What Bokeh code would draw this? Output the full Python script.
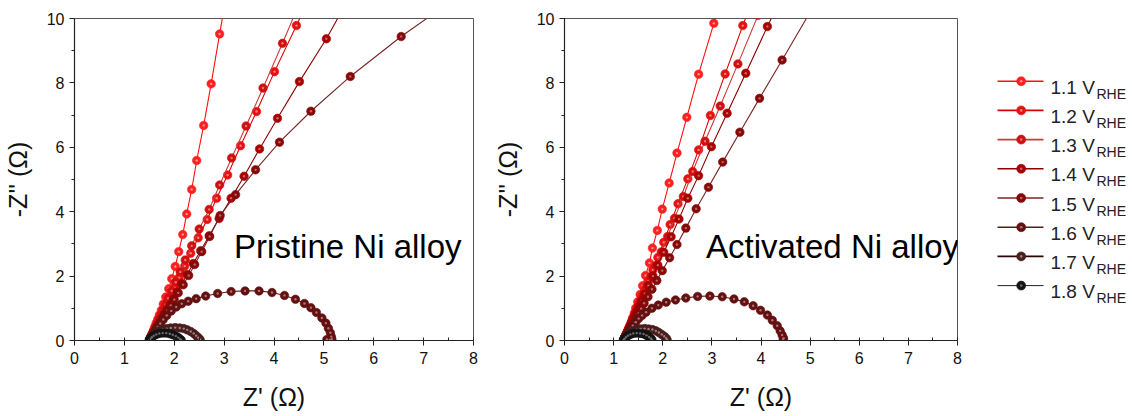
from bokeh.plotting import figure
from bokeh.layouts import row
from bokeh.models import Range1d, SingleIntervalTicker, Label
from bokeh.embed import file_html
from bokeh.resources import INLINE
from bokeh.core.properties import value

FONT = "Liberation Sans"

potentials = ["1.1", "1.2", "1.3", "1.4", "1.5", "1.6", "1.7", "1.8"]
line_colors = ["#ff1010", "#e00000", "#d03a3a", "#8b0000", "#7a2424", "#5c1a1a", "#2a0606", "#222222"]
marker_colors = ["#ff2020", "#e61212", "#cf1010", "#a80000", "#860808", "#651010", "#4a1e1e", "#141414"]
highlight_colors = ["#ffb0b0", "#f8a0a0", "#e89090", "#d08080", "#c08080", "#b89090", "#b09898", "#808080"]

# ---- Pristine Ni alloy: Nyquist data (Z', -Z'') ----
pr_11_x = [1.51, 1.52, 1.53, 1.54, 1.555, 1.57, 1.585, 1.60, 1.62, 1.64, 1.67, 1.70, 1.74, 1.78, 1.83, 1.89,
           1.95, 2.02, 2.09, 2.17, 2.25, 2.35, 2.45, 2.59, 2.74, 2.91, 3.12]
pr_11_y = [0.04, 0.07, 0.11, 0.15, 0.20, 0.25, 0.31, 0.38, 0.46, 0.55, 0.66, 0.79, 0.94, 1.13, 1.35, 1.61,
           1.92, 2.30, 2.76, 3.29, 3.93, 4.69, 5.59, 6.68, 7.97, 9.52, 11.4]

pr_12_x = [1.52, 1.53, 1.54, 1.55, 1.565, 1.58, 1.595, 1.61, 1.63, 1.65, 1.67, 1.70, 1.73, 1.77, 1.82, 1.87,
           1.94, 2.01, 2.10, 2.21, 2.33, 2.48, 2.66, 2.85, 3.07, 3.33, 3.65, 4.01, 4.45, 4.90]
pr_12_y = [0.05, 0.08, 0.11, 0.15, 0.19, 0.23, 0.28, 0.33, 0.39, 0.46, 0.54, 0.63, 0.74, 0.87, 1.03, 1.21,
           1.42, 1.67, 1.96, 2.31, 2.71, 3.19, 3.76, 4.42, 5.14, 6.05, 7.11, 8.35, 9.78, 11.3]

pr_13_x = [1.51, 1.52, 1.53, 1.54, 1.55, 1.56, 1.575, 1.59, 1.61, 1.625, 1.65, 1.67, 1.70, 1.74, 1.78, 1.83,
           1.88, 1.95, 2.03, 2.12, 2.22, 2.35, 2.50, 2.70, 2.91, 3.15, 3.44, 3.78, 4.17, 4.60]
pr_13_y = [0.04, 0.07, 0.10, 0.13, 0.17, 0.21, 0.25, 0.30, 0.36, 0.42, 0.50, 0.58, 0.68, 0.80, 0.95, 1.12,
           1.31, 1.54, 1.81, 2.13, 2.50, 2.94, 3.46, 4.07, 4.83, 5.67, 6.66, 7.84, 9.23, 10.8]

pr_14_x = [1.52, 1.53, 1.55, 1.56, 1.58, 1.60, 1.61, 1.64, 1.66, 1.69, 1.72, 1.76, 1.80, 1.85, 1.91, 1.98,
           2.06, 2.15, 2.26, 2.38, 2.53, 2.70, 2.90, 3.14, 3.40, 3.71, 4.07, 4.51, 5.05, 5.60]
pr_14_y = [0.06, 0.09, 0.13, 0.17, 0.21, 0.26, 0.31, 0.37, 0.44, 0.51, 0.60, 0.70, 0.81, 0.95, 1.11, 1.29,
           1.51, 1.76, 2.05, 2.39, 2.79, 3.25, 3.79, 4.42, 5.10, 5.95, 6.90, 8.04, 9.37, 10.9]

pr_15_x = [1.52, 1.53, 1.545, 1.56, 1.575, 1.59, 1.61, 1.635, 1.66, 1.69, 1.73, 1.77, 1.81, 1.86, 1.93, 2.00,
           2.08, 2.18, 2.29, 2.41, 2.55, 2.71, 2.92, 3.23, 3.63, 4.11, 4.74, 5.53, 6.55, 7.70]
pr_15_y = [0.05, 0.08, 0.11, 0.15, 0.19, 0.24, 0.29, 0.35, 0.42, 0.49, 0.58, 0.68, 0.80, 0.93, 1.09, 1.27,
           1.48, 1.73, 2.02, 2.36, 2.76, 3.23, 3.88, 4.53, 5.30, 6.16, 7.12, 8.20, 9.44, 10.7]

pr_16_x = [1.51, 1.53, 1.56, 1.59, 1.63, 1.67, 1.72, 1.78, 1.85, 1.94, 2.04, 2.15, 2.28, 2.44, 2.63, 2.87,
           3.14, 3.42, 3.70, 3.96, 4.21, 4.43, 4.61, 4.74, 4.85, 4.96, 5.04, 5.09, 5.13, 5.15, 5.16, 5.12, 5.06]
pr_16_y = [0.03, 0.08, 0.15, 0.23, 0.32, 0.42, 0.53, 0.65, 0.78, 0.92, 1.04, 1.14, 1.22, 1.30, 1.38, 1.46,
           1.52, 1.54, 1.54, 1.49, 1.40, 1.28, 1.15, 1.02, 0.87, 0.70, 0.54, 0.38, 0.24, 0.12, 0.04, 0.02, 0.03]

pr_17_x = [1.50, 1.52, 1.55, 1.59, 1.64, 1.70, 1.77, 1.85, 1.93, 2.02, 2.11, 2.19, 2.26, 2.33, 2.39, 2.44,
           2.48, 2.51, 2.52]
pr_17_y = [0.02, 0.07, 0.13, 0.19, 0.25, 0.30, 0.34, 0.37, 0.39, 0.40, 0.39, 0.37, 0.33, 0.28, 0.22, 0.15,
           0.09, 0.04, 0.01]

pr_18_x = [1.50, 1.52, 1.55, 1.59, 1.64, 1.70, 1.77, 1.84, 1.91, 1.97, 2.03, 2.08, 2.12, 2.14]
pr_18_y = [0.01, 0.05, 0.10, 0.15, 0.19, 0.22, 0.23, 0.23, 0.21, 0.18, 0.14, 0.09, 0.04, 0.01]

# ---- Activated Ni alloy: Nyquist data (Z', -Z'') ----
ac_11_x = [1.215, 1.225, 1.235, 1.245, 1.255, 1.27, 1.285, 1.30, 1.32, 1.34, 1.365, 1.39, 1.42, 1.45, 1.49,
           1.54, 1.59, 1.65, 1.73, 1.79, 1.89, 1.99, 2.13, 2.29, 2.49, 2.73, 3.04, 3.40]
ac_11_y = [0.05, 0.08, 0.11, 0.15, 0.19, 0.24, 0.29, 0.35, 0.42, 0.50, 0.60, 0.71, 0.85, 1.01, 1.20,
           1.43, 1.70, 2.02, 2.41, 2.87, 3.42, 4.08, 4.89, 5.82, 6.93, 8.27, 9.85, 11.7]

ac_12_x = [1.215, 1.225, 1.235, 1.25, 1.26, 1.275, 1.29, 1.31, 1.325, 1.345, 1.37, 1.39, 1.43, 1.46, 1.51,
           1.57, 1.63, 1.71, 1.80, 1.90, 2.02, 2.15, 2.31, 2.51, 2.73, 2.97, 3.27, 3.63, 4.05]
ac_12_y = [0.05, 0.08, 0.11, 0.15, 0.19, 0.24, 0.29, 0.35, 0.41, 0.49, 0.58, 0.68, 0.81, 0.95, 1.13,
           1.33, 1.57, 1.85, 2.19, 2.58, 3.05, 3.60, 4.25, 5.02, 5.92, 6.99, 8.28, 9.78, 11.5]

ac_13_x = [1.21, 1.22, 1.23, 1.245, 1.255, 1.27, 1.285, 1.30, 1.32, 1.34, 1.36, 1.39, 1.42, 1.46, 1.50,
           1.55, 1.61, 1.68, 1.76, 1.86, 1.97, 2.10, 2.24, 2.42, 2.61, 2.86, 3.17, 3.53, 3.94]
ac_13_y = [0.04, 0.07, 0.10, 0.14, 0.18, 0.23, 0.28, 0.33, 0.39, 0.46, 0.54, 0.64, 0.75, 0.88, 1.04,
           1.22, 1.43, 1.69, 1.98, 2.33, 2.75, 3.23, 3.80, 4.47, 5.25, 6.19, 7.28, 8.59, 10.1]

ac_14_x = [1.21, 1.22, 1.23, 1.245, 1.255, 1.27, 1.29, 1.305, 1.325, 1.345, 1.37, 1.40, 1.43, 1.47, 1.52,
           1.57, 1.635, 1.71, 1.80, 1.90, 2.02, 2.17, 2.33, 2.51, 2.73, 2.99, 3.31, 3.69, 4.13, 4.65]
ac_14_y = [0.04, 0.07, 0.11, 0.15, 0.19, 0.24, 0.29, 0.35, 0.41, 0.48, 0.56, 0.66, 0.77, 0.90, 1.06,
           1.24, 1.45, 1.70, 2.00, 2.34, 2.74, 3.22, 3.77, 4.42, 5.12, 6.02, 7.06, 8.30, 9.75, 11.4]

ac_15_x = [1.215, 1.225, 1.235, 1.25, 1.265, 1.28, 1.30, 1.32, 1.34, 1.36, 1.39, 1.43, 1.47, 1.51, 1.56,
           1.62, 1.70, 1.78, 1.88, 1.99, 2.14, 2.29, 2.47, 2.68, 2.93, 3.22, 3.57, 3.97, 4.43, 5.00]
ac_15_y = [0.04, 0.07, 0.10, 0.14, 0.18, 0.23, 0.28, 0.33, 0.39, 0.45, 0.53, 0.62, 0.73, 0.85, 0.99,
           1.16, 1.36, 1.59, 1.86, 2.17, 2.57, 2.98, 3.49, 4.09, 4.76, 5.54, 6.47, 7.52, 8.71, 10.2]

ac_16_x = [1.21, 1.23, 1.26, 1.30, 1.34, 1.39, 1.45, 1.51, 1.58, 1.66, 1.78, 1.91, 2.07, 2.26, 2.47, 2.71,
           2.96, 3.21, 3.45, 3.66, 3.84, 3.99, 4.13, 4.23, 4.33, 4.39, 4.43, 4.46, 4.45]
ac_16_y = [0.03, 0.09, 0.17, 0.26, 0.36, 0.46, 0.57, 0.68, 0.78, 0.88, 1.00, 1.10, 1.19, 1.26, 1.32, 1.37,
           1.38, 1.36, 1.29, 1.20, 1.08, 0.94, 0.79, 0.63, 0.46, 0.30, 0.17, 0.07, 0.01]

ac_17_x = [1.20, 1.22, 1.25, 1.29, 1.34, 1.40, 1.47, 1.55, 1.63, 1.71, 1.79, 1.86, 1.92, 1.98, 2.03, 2.07,
           2.09]
ac_17_y = [0.02, 0.07, 0.13, 0.19, 0.25, 0.30, 0.34, 0.36, 0.37, 0.36, 0.34, 0.30, 0.25, 0.19, 0.13, 0.07,
           0.02]

ac_18_x = [1.20, 1.22, 1.25, 1.29, 1.34, 1.40, 1.47, 1.54, 1.61, 1.67, 1.72, 1.76, 1.78]
ac_18_y = [0.01, 0.05, 0.10, 0.15, 0.19, 0.22, 0.23, 0.22, 0.20, 0.16, 0.11, 0.06, 0.02]

pristine = [(pr_11_x, pr_11_y), (pr_12_x, pr_12_y), (pr_13_x, pr_13_y), (pr_14_x, pr_14_y),
            (pr_15_x, pr_15_y), (pr_16_x, pr_16_y), (pr_17_x, pr_17_y), (pr_18_x, pr_18_y)]
activated = [(ac_11_x, ac_11_y), (ac_12_x, ac_12_y), (ac_13_x, ac_13_y), (ac_14_x, ac_14_y),
             (ac_15_x, ac_15_y), (ac_16_x, ac_16_y), (ac_17_x, ac_17_y), (ac_18_x, ac_18_y)]

TOP, BOTTOM = 18, 76


def nyquist_panel(series, caption, cap_x, cap_y, border_left, border_right):
    p = figure(width=border_left + 400 + border_right, height=416,
               x_range=Range1d(0, 8), y_range=Range1d(0, 10),
               output_backend="svg", toolbar_location=None,
               min_border_left=border_left, min_border_right=border_right,
               min_border_top=TOP, min_border_bottom=BOTTOM)
    p.background_fill_color = "white"
    p.border_fill_color = "white"
    p.grid.visible = False
    p.outline_line_color = "#555555"
    p.outline_line_width = 1

    p.xaxis.ticker = SingleIntervalTicker(interval=1, num_minor_ticks=2)
    p.yaxis.ticker = SingleIntervalTicker(interval=2, num_minor_ticks=2)
    for ax in (p.xaxis[0], p.yaxis[0]):
        ax.axis_line_color = "#222222"
        ax.axis_line_width = 1.2
        ax.major_tick_line_color = "#222222"
        ax.minor_tick_line_color = "#222222"
        ax.major_tick_out = 5
        ax.major_tick_in = 0
        ax.major_label_text_font = FONT
        ax.major_label_text_font_size = "16px"
        ax.major_label_text_color = "#111111"
        ax.axis_label_text_font = FONT
        ax.axis_label_text_font_size = "25px"
        ax.axis_label_text_font_style = "normal"
        ax.axis_label_text_color = "#111111"
    p.xaxis.minor_tick_in = 3
    p.xaxis.minor_tick_out = 0
    p.yaxis.minor_tick_in = 0
    p.yaxis.minor_tick_out = 3
    p.xaxis.major_label_standoff = 6
    p.yaxis.major_label_standoff = 5
    p.xaxis.axis_label = "Z' (Ω)"
    p.yaxis.axis_label = "-Z'' (Ω)"
    p.xaxis.axis_label_standoff = 16
    p.yaxis.axis_label_standoff = 12

    for (xs, ys), lc, mc, hc in zip(series, line_colors, marker_colors, highlight_colors):
        p.line(xs, ys, line_color=lc, line_width=1.1)
        p.scatter(xs, ys, marker="circle", size=8.5, fill_color=mc, line_color=mc, line_width=0.6)
        p.scatter(xs, ys, marker="circle", size=2.4, fill_color=hc, line_color=None, fill_alpha=0.8)

    p.add_layout(Label(x=cap_x, y=cap_y, text=caption, text_font=FONT,
                       text_font_size="33px", text_color="#000000",
                       text_baseline="alphabetic"))
    return p


p1 = nyquist_panel(pristine, "Pristine Ni alloy", 3.2, 2.92, 73, 17)
p2 = nyquist_panel(activated, "Activated Ni alloy", 2.88, 2.92, 67, 23)

# Legend panel: frame shares the plot frames' vertical extent, ranges in page pixels
leg = figure(width=152, height=416, x_range=Range1d(980, 1132), y_range=Range1d(416 - BOTTOM, TOP),
             output_backend="svg", toolbar_location=None,
             x_axis_type=None, y_axis_type=None,
             min_border_left=0, min_border_right=0,
             min_border_top=TOP, min_border_bottom=BOTTOM)
leg.grid.visible = False
leg.outline_line_color = None
leg.background_fill_color = "white"
leg.border_fill_color = "white"

row_y = [80.7 + 29.2 * i for i in range(len(potentials))]
leg.segment(x0=[997] * len(potentials), y0=row_y, x1=[1043] * len(potentials), y1=row_y,
            line_color=line_colors, line_width=[1.6] * 7 + [1.0])
leg.scatter([1020.7] * len(potentials), row_y, marker="circle", size=9,
            fill_color=marker_colors, line_color=marker_colors, line_width=0.6)
leg.scatter([1020.7] * len(potentials), row_y, marker="circle", size=2.6,
            fill_color=highlight_colors, line_color=None, fill_alpha=0.8)
leg.text(x=[1050] * len(potentials), y=[y + 6 for y in row_y],
         text=[f"{v} V" for v in potentials], text_font=value(FONT), text_font_size="19px",
         text_color="#222222", text_baseline="alphabetic", text_align="left")
leg.text(x=[1096] * len(potentials), y=[y + 12.5 for y in row_y],
         text=["RHE"] * len(potentials), text_font=value(FONT), text_font_size="14px",
         text_color="#222222", text_baseline="alphabetic", text_align="left")

layout = row(p1, p2, leg, spacing=0)

open("out.html", "w").write(file_html(layout, INLINE))
